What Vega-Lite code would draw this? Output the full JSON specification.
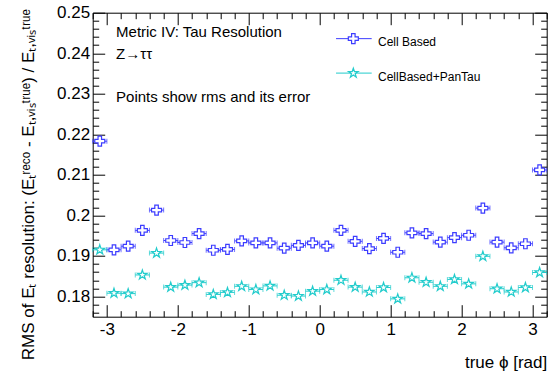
{
  "$schema": "https://vega.github.io/schema/vega-lite/v6.json",
  "width": 454,
  "height": 304,
  "autosize": {"type": "none"},
  "padding": {"left": 92.7, "top": 12.7, "right": 6.3, "bottom": 55.3},
  "background": "white",
  "config": {
    "font": "Liberation Sans",
    "view": {"stroke": "black", "strokeWidth": 1},
    "axis": {
      "grid": false,
      "domain": false,
      "tickColor": "black",
      "tickWidth": 1,
      "labelColor": "black",
      "titleColor": "black",
      "labelFont": "Liberation Sans",
      "titleFont": "Liberation Sans",
      "labelFontSize": 17,
      "titleFontSize": 17,
      "titleFontWeight": "normal",
      "labelOverlap": false,
      "labelFlush": false
    }
  },
  "datasets": {
    "pts": [
      {"s": "Cell Based", "phi": -3.1, "lo": -3.2, "hi": -3.0, "rms": 0.2183},
      {"s": "Cell Based", "phi": -2.9, "lo": -3.0, "hi": -2.8, "rms": 0.1915},
      {"s": "Cell Based", "phi": -2.7, "lo": -2.8, "hi": -2.6, "rms": 0.1924},
      {"s": "Cell Based", "phi": -2.5, "lo": -2.6, "hi": -2.4, "rms": 0.1963},
      {"s": "Cell Based", "phi": -2.3, "lo": -2.4, "hi": -2.2, "rms": 0.2013},
      {"s": "Cell Based", "phi": -2.1, "lo": -2.2, "hi": -2.0, "rms": 0.1938},
      {"s": "Cell Based", "phi": -1.9, "lo": -2.0, "hi": -1.8, "rms": 0.1933},
      {"s": "Cell Based", "phi": -1.7, "lo": -1.8, "hi": -1.6, "rms": 0.1955},
      {"s": "Cell Based", "phi": -1.5, "lo": -1.6, "hi": -1.4, "rms": 0.1914},
      {"s": "Cell Based", "phi": -1.3, "lo": -1.4, "hi": -1.2, "rms": 0.1916},
      {"s": "Cell Based", "phi": -1.1, "lo": -1.2, "hi": -1.0, "rms": 0.1937},
      {"s": "Cell Based", "phi": -0.9, "lo": -1.0, "hi": -0.8, "rms": 0.1932},
      {"s": "Cell Based", "phi": -0.7, "lo": -0.8, "hi": -0.6, "rms": 0.1932},
      {"s": "Cell Based", "phi": -0.5, "lo": -0.6, "hi": -0.4, "rms": 0.1919},
      {"s": "Cell Based", "phi": -0.3, "lo": -0.4, "hi": -0.2, "rms": 0.1926},
      {"s": "Cell Based", "phi": -0.1, "lo": -0.2, "hi": 0.0, "rms": 0.1932},
      {"s": "Cell Based", "phi": 0.1, "lo": 0.0, "hi": 0.2, "rms": 0.1924},
      {"s": "Cell Based", "phi": 0.3, "lo": 0.2, "hi": 0.4, "rms": 0.1963},
      {"s": "Cell Based", "phi": 0.5, "lo": 0.4, "hi": 0.6, "rms": 0.1936},
      {"s": "Cell Based", "phi": 0.7, "lo": 0.6, "hi": 0.8, "rms": 0.1918},
      {"s": "Cell Based", "phi": 0.9, "lo": 0.8, "hi": 1.0, "rms": 0.1943},
      {"s": "Cell Based", "phi": 1.1, "lo": 1.0, "hi": 1.2, "rms": 0.1909},
      {"s": "Cell Based", "phi": 1.3, "lo": 1.2, "hi": 1.4, "rms": 0.1957},
      {"s": "Cell Based", "phi": 1.5, "lo": 1.4, "hi": 1.6, "rms": 0.1955},
      {"s": "Cell Based", "phi": 1.7, "lo": 1.6, "hi": 1.8, "rms": 0.1934},
      {"s": "Cell Based", "phi": 1.9, "lo": 1.8, "hi": 2.0, "rms": 0.1945},
      {"s": "Cell Based", "phi": 2.1, "lo": 2.0, "hi": 2.2, "rms": 0.1951},
      {"s": "Cell Based", "phi": 2.3, "lo": 2.2, "hi": 2.4, "rms": 0.2018},
      {"s": "Cell Based", "phi": 2.5, "lo": 2.4, "hi": 2.6, "rms": 0.1934},
      {"s": "Cell Based", "phi": 2.7, "lo": 2.6, "hi": 2.8, "rms": 0.1920},
      {"s": "Cell Based", "phi": 2.9, "lo": 2.8, "hi": 3.0, "rms": 0.1930},
      {"s": "Cell Based", "phi": 3.1, "lo": 3.0, "hi": 3.2, "rms": 0.2112},
      {"s": "CellBased+PanTau", "phi": -3.1, "lo": -3.2, "hi": -3.0, "rms": 0.1915},
      {"s": "CellBased+PanTau", "phi": -2.9, "lo": -3.0, "hi": -2.8, "rms": 0.1808},
      {"s": "CellBased+PanTau", "phi": -2.7, "lo": -2.8, "hi": -2.6, "rms": 0.1807},
      {"s": "CellBased+PanTau", "phi": -2.5, "lo": -2.6, "hi": -2.4, "rms": 0.1853},
      {"s": "CellBased+PanTau", "phi": -2.3, "lo": -2.4, "hi": -2.2, "rms": 0.1907},
      {"s": "CellBased+PanTau", "phi": -2.1, "lo": -2.2, "hi": -2.0, "rms": 0.1823},
      {"s": "CellBased+PanTau", "phi": -1.9, "lo": -2.0, "hi": -1.8, "rms": 0.1828},
      {"s": "CellBased+PanTau", "phi": -1.7, "lo": -1.8, "hi": -1.6, "rms": 0.1834},
      {"s": "CellBased+PanTau", "phi": -1.5, "lo": -1.6, "hi": -1.4, "rms": 0.1805},
      {"s": "CellBased+PanTau", "phi": -1.3, "lo": -1.4, "hi": -1.2, "rms": 0.1810},
      {"s": "CellBased+PanTau", "phi": -1.1, "lo": -1.2, "hi": -1.0, "rms": 0.1825},
      {"s": "CellBased+PanTau", "phi": -0.9, "lo": -1.0, "hi": -0.8, "rms": 0.1817},
      {"s": "CellBased+PanTau", "phi": -0.7, "lo": -0.8, "hi": -0.6, "rms": 0.1826},
      {"s": "CellBased+PanTau", "phi": -0.5, "lo": -0.6, "hi": -0.4, "rms": 0.1803},
      {"s": "CellBased+PanTau", "phi": -0.3, "lo": -0.4, "hi": -0.2, "rms": 0.1801},
      {"s": "CellBased+PanTau", "phi": -0.1, "lo": -0.2, "hi": 0.0, "rms": 0.1813},
      {"s": "CellBased+PanTau", "phi": 0.1, "lo": 0.0, "hi": 0.2, "rms": 0.1817},
      {"s": "CellBased+PanTau", "phi": 0.3, "lo": 0.2, "hi": 0.4, "rms": 0.1840},
      {"s": "CellBased+PanTau", "phi": 0.5, "lo": 0.4, "hi": 0.6, "rms": 0.1823},
      {"s": "CellBased+PanTau", "phi": 0.7, "lo": 0.6, "hi": 0.8, "rms": 0.1811},
      {"s": "CellBased+PanTau", "phi": 0.9, "lo": 0.8, "hi": 1.0, "rms": 0.1822},
      {"s": "CellBased+PanTau", "phi": 1.1, "lo": 1.0, "hi": 1.2, "rms": 0.1794},
      {"s": "CellBased+PanTau", "phi": 1.3, "lo": 1.2, "hi": 1.4, "rms": 0.1846},
      {"s": "CellBased+PanTau", "phi": 1.5, "lo": 1.4, "hi": 1.6, "rms": 0.1835},
      {"s": "CellBased+PanTau", "phi": 1.7, "lo": 1.6, "hi": 1.8, "rms": 0.1825},
      {"s": "CellBased+PanTau", "phi": 1.9, "lo": 1.8, "hi": 2.0, "rms": 0.1842},
      {"s": "CellBased+PanTau", "phi": 2.1, "lo": 2.0, "hi": 2.2, "rms": 0.1831},
      {"s": "CellBased+PanTau", "phi": 2.3, "lo": 2.2, "hi": 2.4, "rms": 0.1899},
      {"s": "CellBased+PanTau", "phi": 2.5, "lo": 2.4, "hi": 2.6, "rms": 0.1819},
      {"s": "CellBased+PanTau", "phi": 2.7, "lo": 2.6, "hi": 2.8, "rms": 0.1811},
      {"s": "CellBased+PanTau", "phi": 2.9, "lo": 2.8, "hi": 3.0, "rms": 0.1822},
      {"s": "CellBased+PanTau", "phi": 3.1, "lo": 3.0, "hi": 3.2, "rms": 0.1859}
    ]
  },
  "layer": [
    {
      "data": {"name": "pts"},
      "mark": {"type": "rule", "strokeWidth": 1},
      "encoding": {
        "x": {
          "field": "lo", "type": "quantitative",
          "scale": {"domain": [-3.2, 3.2], "nice": false, "zero": false},
          "axis": {
            "orient": "bottom",
            "title": "true ϕ [rad]",
            "values": [-3.2,-3,-2.8,-2.6,-2.4,-2.2,-2,-1.8,-1.6,-1.4,-1.2,-1,-0.8,-0.6,-0.4,-0.2,0,0.2,0.4,0.6,0.8,1,1.2,1.4,1.6,1.8,2,2.2,2.4,2.6,2.8,3,3.2],
            "tickSize": {"condition": {"test": "abs(datum.value - round(datum.value)) < 0.001", "value": -12}, "value": -6},
            "labelExpr": "abs(datum.value - round(datum.value)) < 0.001 ? datum.value + '' : ''",
            "labelPadding": 17,
            "titleX": 454,
            "titleY": 51,
            "titleAlign": "right",
            "titleBaseline": "alphabetic",
            "titleAngle": 0
          }
        },
        "x2": {"field": "hi"},
        "y": {
          "field": "rms", "type": "quantitative",
          "scale": {"domain": [0.175, 0.25], "nice": false, "zero": false},
          "axis": {
            "orient": "left",
            "title": "RMS of Eₜ resolution:  (Eₜʳᵉᶜᵒ - Eₜ,ᵥᵢₛᵗʳᵘᵉ) / Eₜ,ᵥᵢₛᵗʳᵘᵉ",
            "values": [0.176,0.178,0.18,0.182,0.184,0.186,0.188,0.19,0.192,0.194,0.196,0.198,0.2,0.202,0.204,0.206,0.208,0.21,0.212,0.214,0.216,0.218,0.22,0.222,0.224,0.226,0.228,0.23,0.232,0.234,0.236,0.238,0.24,0.242,0.244,0.246,0.248,0.25],
            "tickSize": {"condition": {"test": "abs(datum.value*100 - round(datum.value*100)) < 0.01", "value": -12}, "value": -6},
            "labelExpr": "abs(datum.value*100 - round(datum.value*100)) < 0.01 ? datum.value + '' : ''",
            "labelPadding": 15,
            "titleX": -59,
            "titleY": -4,
            "titleAngle": 270,
            "titleAlign": "right",
            "titleBaseline": "alphabetic"
          }
        },
        "color": {
          "field": "s", "type": "nominal",
          "scale": {"domain": ["Cell Based", "CellBased+PanTau"], "range": ["#3c3cff", "#22cccc"]},
          "legend": null
        }
      }
    },
    {
      "data": {"name": "pts"},
      "transform": [{"fold": ["lo", "hi"], "as": ["end", "xe"]}],
      "mark": {"type": "tick", "orient": "vertical", "size": 5, "thickness": 1},
      "encoding": {
        "x": {
          "field": "xe", "type": "quantitative",
          "axis": {
            "orient": "top",
            "title": null,
            "labels": false,
            "values": [-3.2,-3,-2.8,-2.6,-2.4,-2.2,-2,-1.8,-1.6,-1.4,-1.2,-1,-0.8,-0.6,-0.4,-0.2,0,0.2,0.4,0.6,0.8,1,1.2,1.4,1.6,1.8,2,2.2,2.4,2.6,2.8,3,3.2],
            "tickSize": {"condition": {"test": "abs(datum.value - round(datum.value)) < 0.001", "value": -12}, "value": -6}
          }
        },
        "y": {
          "field": "rms", "type": "quantitative",
          "axis": {
            "orient": "right",
            "title": null,
            "labels": false,
            "values": [0.176,0.178,0.18,0.182,0.184,0.186,0.188,0.19,0.192,0.194,0.196,0.198,0.2,0.202,0.204,0.206,0.208,0.21,0.212,0.214,0.216,0.218,0.22,0.222,0.224,0.226,0.228,0.23,0.232,0.234,0.236,0.238,0.24,0.242,0.244,0.246,0.248,0.25],
            "tickSize": {"condition": {"test": "abs(datum.value*100 - round(datum.value*100)) < 0.01", "value": -12}, "value": -6}
          }
        },
        "color": {"field": "s", "type": "nominal", "legend": null}
      }
    },
    {
      "data": {"name": "pts"},
      "mark": {"type": "point", "filled": false, "fill": "white", "fillOpacity": 1, "strokeWidth": 1.2, "size": 100, "opacity": 1},
      "encoding": {
        "x": {"field": "phi", "type": "quantitative", "axis": null},
        "y": {"field": "rms", "type": "quantitative", "axis": null},
        "shape": {
          "field": "s", "type": "nominal",
          "scale": {
            "domain": ["Cell Based", "CellBased+PanTau"],
            "range": [
              "M-0.35,-1L0.35,-1L0.35,-0.35L1,-0.35L1,0.35L0.35,0.35L0.35,1L-0.35,1L-0.35,0.35L-1,0.35L-1,-0.35L-0.35,-0.35Z",
              "M0,-1L0.224,-0.309L0.951,-0.309L0.363,0.118L0.588,0.809L0,0.382L-0.588,0.809L-0.363,0.118L-0.951,-0.309L-0.224,-0.309Z"
            ]
          },
          "legend": null
        },
        "color": {"field": "s", "type": "nominal", "legend": null}
      }
    },
    {
      "data": {"values": [{}]},
      "mark": {"type": "rule", "color": "#3c3cff", "strokeWidth": 1},
      "encoding": {
        "x": {"datum": 0.23, "axis": null},
        "x2": {"datum": 0.733},
        "y": {"datum": 0.2436, "axis": null}
      }
    },
    {
      "data": {"values": [{}]},
      "mark": {"type": "point", "filled": false, "fill": "white", "fillOpacity": 1, "stroke": "#3c3cff", "strokeWidth": 1.2, "size": 100, "opacity": 1,
        "shape": "M-0.35,-1L0.35,-1L0.35,-0.35L1,-0.35L1,0.35L0.35,0.35L0.35,1L-0.35,1L-0.35,0.35L-1,0.35L-1,-0.35L-0.35,-0.35Z"},
      "encoding": {
        "x": {"datum": 0.474, "axis": null},
        "y": {"datum": 0.2436, "axis": null}
      }
    },
    {
      "data": {"values": [{}]},
      "mark": {"type": "rule", "color": "#22cccc", "strokeWidth": 1},
      "encoding": {
        "x": {"datum": 0.23, "axis": null},
        "x2": {"datum": 0.733},
        "y": {"datum": 0.2351, "axis": null}
      }
    },
    {
      "data": {"values": [{}]},
      "mark": {"type": "point", "filled": false, "fill": "white", "fillOpacity": 1, "stroke": "#22cccc", "strokeWidth": 1.2, "size": 100, "opacity": 1,
        "shape": "M0,-1L0.224,-0.309L0.951,-0.309L0.363,0.118L0.588,0.809L0,0.382L-0.588,0.809L-0.363,0.118L-0.951,-0.309L-0.224,-0.309Z"},
      "encoding": {
        "x": {"datum": 0.474, "axis": null},
        "y": {"datum": 0.2351, "axis": null}
      }
    },
    {
      "data": {"values": [{}]},
      "mark": {"type": "text", "align": "left", "baseline": "alphabetic", "fontSize": 12, "lineHeight": 35, "color": "black", "font": "Liberation Sans",
        "text": ["Cell Based", "CellBased+PanTau"]},
      "encoding": {
        "x": {"datum": 0.822, "axis": null},
        "y": {"datum": 0.2418, "axis": null}
      }
    },
    {
      "data": {"values": [{}]},
      "mark": {"type": "text", "align": "left", "baseline": "alphabetic", "fontSize": 15, "lineHeight": 21.7, "color": "black", "font": "Liberation Sans",
        "text": ["Metric IV: Tau Resolution", "Z→ττ"]},
      "encoding": {
        "x": {"datum": -2.871, "axis": null},
        "y": {"datum": 0.2440, "axis": null}
      }
    },
    {
      "data": {"values": [{}]},
      "mark": {"type": "text", "align": "left", "baseline": "alphabetic", "fontSize": 15, "color": "black", "font": "Liberation Sans",
        "text": "Points show rms and its error"},
      "encoding": {
        "x": {"datum": -2.871, "axis": null},
        "y": {"datum": 0.2279, "axis": null}
      }
    }
  ],
  "resolve": {"axis": {"x": "independent", "y": "independent"}}
}
